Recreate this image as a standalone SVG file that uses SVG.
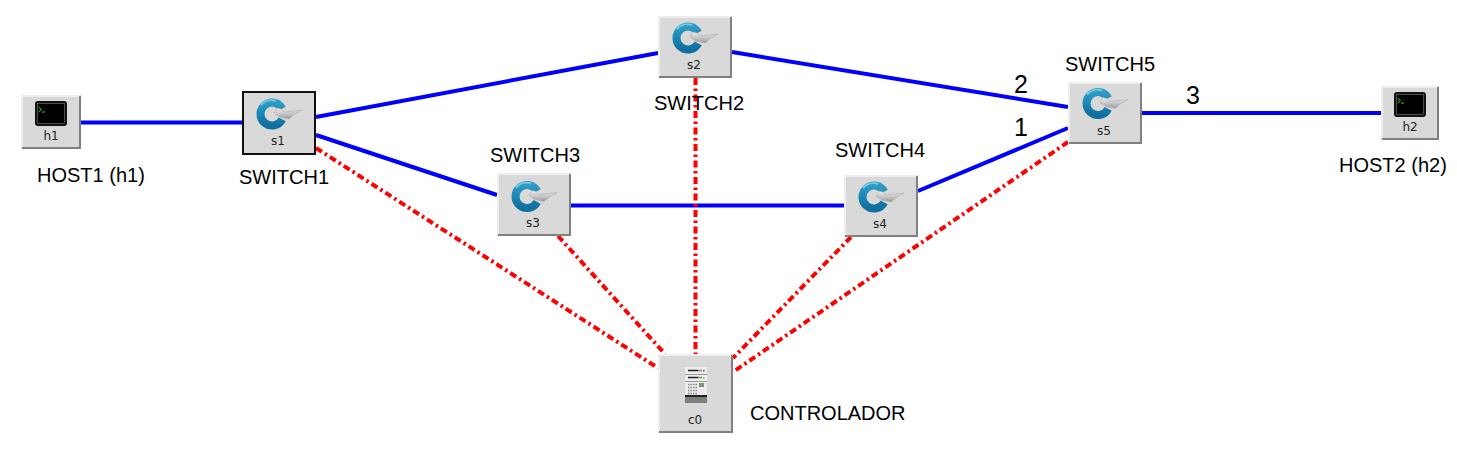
<svg xmlns="http://www.w3.org/2000/svg" width="1457" height="451" viewBox="0 0 1457 451">
<style>
.lbl{font-family:"Liberation Sans",Arial,sans-serif;font-size:20px;fill:#000}
.num{font-family:"Liberation Sans",Arial,sans-serif;font-size:25px;fill:#000}
.cap{font-family:"DejaVu Sans",sans-serif;font-size:12px;fill:#222;text-anchor:middle}
.data{fill:none;stroke:#0000ff;stroke-width:4}
.ctl{fill:none;stroke:#ff0000;stroke-width:4;stroke-dasharray:7 3.500 2.500 3.500}
.box{fill:#d9d9d9}
.hi{fill:none;stroke:#eeeeee;stroke-width:2}
.lo{fill:none;stroke:#808080;stroke-width:2}
</style>
<defs>
<linearGradient id="ring" x1="0" y1="0" x2="0" y2="1"><stop offset="0" stop-color="#2f9cc6"/><stop offset=".5" stop-color="#1b86b4"/><stop offset="1" stop-color="#0f6f9e"/></linearGradient>
<linearGradient id="key" x1="0" y1="0" x2="0" y2="1"><stop offset="0" stop-color="#eeeeee"/><stop offset=".55" stop-color="#c4c4c4"/><stop offset="1" stop-color="#989898"/></linearGradient>
<g id="swicon">
<path d="M10.200-5.300A11.500 11.500 0 1 0 10.200 5.300" fill="none" stroke="url(#ring)" stroke-width="8"/>
<path d="M-11-9A14 14 0 0 1 4-13" fill="none" stroke="#7cc8e2" stroke-width="2"/>
<path d="M2-1 L5-6 L9-5 L12-2 L21-3 L30-4 L23 0 L17 5 L8 3 Z" fill="url(#key)" stroke="#a6a6a6" stroke-width=".5"/>
</g>
<g id="hicon">
<rect x="1" y="1" width="30" height="23" rx="2" fill="#000" stroke="#111" stroke-width="2"/>
<rect x="2.500" y="2.500" width="27" height="20" fill="none" stroke="#bbb" stroke-width=".4"/>
<path d="M3.500 6 L6.500 8.500 L3.500 11 M7 11 H10" fill="none" stroke="#2bd62b" stroke-width="1"/>
</g>
<g id="srv">
<rect x="0" y="0" width="22" height="36" fill="#ececec"/>
<rect x="0" y="7" width="22" height="1" fill="#9a9a9a"/>
<rect x="0" y="14" width="22" height="1" fill="#9a9a9a"/>
<path d="M3 3.500H13" stroke="#222" stroke-width="1.500"/><path d="M13 3.500H17" stroke="#888" stroke-width="1.500"/>
<path d="M3 10.500H13" stroke="#222" stroke-width="1.500"/><path d="M13 10.500H17" stroke="#888" stroke-width="1.500"/>
<rect x="18" y="3" width="1.500" height="1.500" fill="#d22"/>
<rect x="18" y="10" width="1.500" height="1.500" fill="#7c3"/>
<path d="M3 17.500H12M3 20.500H12M3 23.500H12M3 26.500H12" stroke="#8a8a8a" stroke-width="1.500" stroke-dasharray="1.500 1"/>
<rect x="14" y="16" width="5" height="2" fill="#6aa84f"/><rect x="14" y="18" width="5" height="2" fill="#888"/>
<rect x="0" y="28" width="22" height="2" fill="#222"/>
<rect x="0" y="30" width="22" height="6" fill="#7d7d7d"/>
<rect x="17" y="32" width="2" height="2" fill="#5a3"/>
</g>
</defs>
<rect width="1457" height="451" fill="#fff"/>
<g id="connectors">
<line class="data" x1="81" y1="122.500" x2="242" y2="122.500"/>
<line class="data" x1="316" y1="117" x2="658" y2="53"/>
<line class="data" x1="316" y1="135" x2="497" y2="195"/>
<line class="data" x1="571" y1="205.500" x2="844" y2="205.500"/>
<line class="data" x1="732" y1="52" x2="1068" y2="107"/>
<line class="data" x1="918" y1="191" x2="1068" y2="128"/>
<line class="data" x1="1142" y1="113" x2="1381" y2="113"/>
<line class="ctl" x1="316" y1="148" x2="658" y2="368"/>
<line class="ctl" x1="558" y1="236" x2="665" y2="354"/>
<line class="ctl" x1="695.500" y1="78" x2="695.500" y2="354"/>
<line class="ctl" x1="851" y1="237" x2="733" y2="358"/>
<line class="ctl" x1="1068" y1="142" x2="733" y2="372"/>
</g>
<g id="h1"><rect class="box" x="21" y="95" width="60" height="54"/><path class="hi" d="M22 148V96H80"/><path class="lo" d="M22 148H80V96"/><use href="#hicon" x="35" y="101"/><text class="cap" x="51" y="140">h1</text><text class="lbl" x="37" y="182">HOST1 (h1)</text></g>
<g id="s1"><rect class="box" x="242" y="91" width="74" height="64"/><rect x="243" y="92" width="72" height="62" fill="none" stroke="#111" stroke-width="2"/><use href="#swicon" x="272" y="114"/><text class="cap" x="278" y="145">s1</text><text class="lbl" x="239" y="184">SWITCH1</text></g>
<g id="s2"><rect class="box" x="658" y="16" width="74" height="62"/><path class="hi" d="M659 77V17H731"/><path class="lo" d="M659 77H731V17"/><use href="#swicon" x="688" y="38"/><text class="cap" x="694" y="69">s2</text><text class="lbl" x="654" y="110">SWITCH2</text></g>
<g id="s3"><rect class="box" x="497" y="173" width="74" height="63"/><path class="hi" d="M498 235V174H570"/><path class="lo" d="M498 235H570V174"/><use href="#swicon" x="527" y="196.500"/><text class="cap" x="533" y="227">s3</text><text class="lbl" x="490" y="162">SWITCH3</text></g>
<g id="s4"><rect class="box" x="844" y="175" width="74" height="62"/><path class="hi" d="M845 236V176H917"/><path class="lo" d="M845 236H917V176"/><use href="#swicon" x="874" y="197"/><text class="cap" x="880" y="228">s4</text><text class="lbl" x="835" y="157">SWITCH4</text></g>
<g id="s5"><rect class="box" x="1068" y="82" width="74" height="62"/><path class="hi" d="M1069 143V83H1141"/><path class="lo" d="M1069 143H1141V83"/><use href="#swicon" x="1098" y="103.500"/><text class="cap" x="1104" y="135">s5</text><text class="lbl" x="1065" y="71">SWITCH5</text></g>
<g id="h2"><rect class="box" x="1381" y="86" width="58" height="54"/><path class="hi" d="M1382 139V87H1438"/><path class="lo" d="M1382 139H1438V87"/><use href="#hicon" x="1394" y="92"/><text class="cap" x="1410" y="131">h2</text><text class="lbl" x="1339" y="172">HOST2 (h2)</text></g>
<g id="c0"><rect class="box" x="658" y="354" width="75" height="79"/><path class="hi" d="M659 432V355H732"/><path class="lo" d="M659 432H732V355"/><use href="#srv" x="685" y="367"/><text class="cap" x="695" y="424">c0</text><text class="lbl" x="750" y="420">CONTROLADOR</text></g>
<g id="link-labels"><text class="num" x="1014" y="93">2</text><text class="num" x="1014" y="136">1</text><text class="num" x="1186" y="104">3</text></g>
</svg>
